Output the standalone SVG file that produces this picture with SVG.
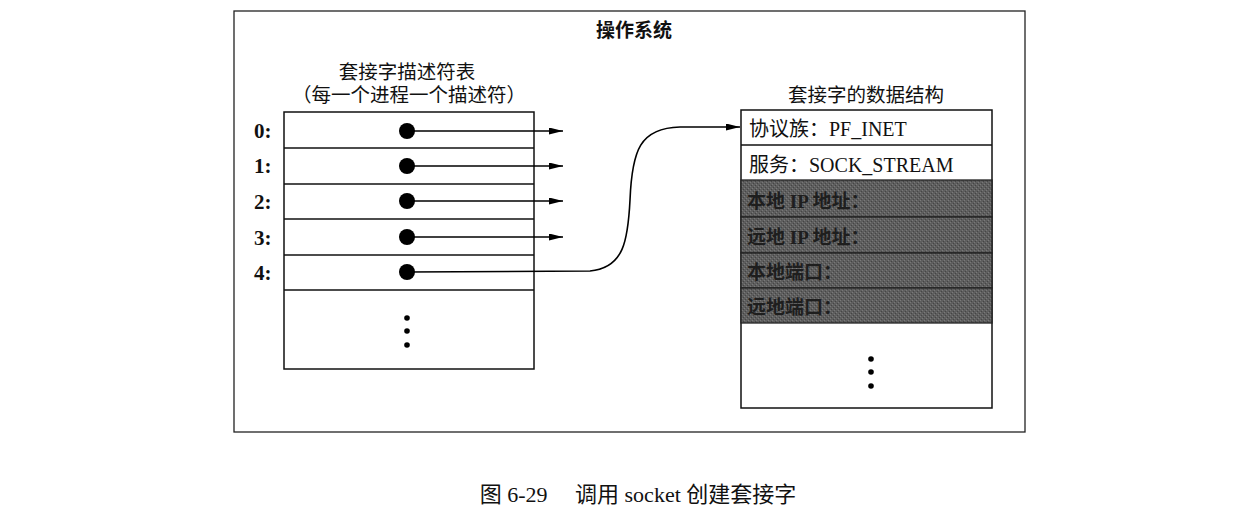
<svg xmlns="http://www.w3.org/2000/svg" width="1260" height="515" viewBox="0 0 1260 515">
<defs>
<marker id="arr" markerWidth="14" markerHeight="7" refX="14" refY="3.5" orient="auto" markerUnits="userSpaceOnUse">
<path d="M0,0 L14,3.5 L0,7 Z" fill="#000"/>
</marker>
<pattern id="grain" width="4" height="4" patternUnits="userSpaceOnUse">
<rect width="4" height="4" fill="#5e5e5e"/>
<rect x="0" y="0" width="1" height="1" fill="#7a7a7a"/>
<rect x="2" y="2" width="1" height="1" fill="#787878"/>
<rect x="3" y="1" width="1" height="1" fill="#444"/>
<rect x="1" y="3" width="1" height="1" fill="#464646"/>
</pattern>
<style>
.cjk{font-family:"Liberation Serif","Noto Sans CJK SC",serif;fill:#111;}
.box{fill:#fff;stroke:#111;stroke-width:1.5;}
.row{stroke:#111;stroke-width:1.3;}
.num{font-family:"Liberation Serif",serif;font-weight:bold;font-size:21px;fill:#111;}
.lnk{fill:none;stroke:#000;stroke-width:1.6;}
.gray{fill:url(#grain);stroke:#222;stroke-width:1.3;}
.gtxt{font-family:"Liberation Serif","Noto Sans CJK SC",serif;font-size:19px;font-weight:bold;fill:#1e1e1e;}
</style>
</defs>
<rect width="1260" height="515" fill="#fff"/>
<g id="os">
<rect x="234" y="11" width="791" height="421" fill="#fff" stroke="#222" stroke-width="1.3"/>
<text class="cjk" x="634" y="37" font-size="19" font-weight="bold" text-anchor="middle">操作系统</text>
</g>
<g id="fdtable">
<text class="cjk" x="407" y="79" font-size="19.5" text-anchor="middle">套接字描述符表</text>
<text class="cjk" x="409" y="102" font-size="19.5" text-anchor="middle">（每一个进程一个描述符）</text>
<rect class="box" x="284" y="112" width="250" height="257"/>
<line class="row" x1="284" y1="148" x2="534" y2="148"/>
<line class="row" x1="284" y1="184" x2="534" y2="184"/>
<line class="row" x1="284" y1="219" x2="534" y2="219"/>
<line class="row" x1="284" y1="255" x2="534" y2="255"/>
<line class="row" x1="284" y1="290" x2="534" y2="290"/>
<text class="num" x="254" y="138">0:</text>
<text class="num" x="254" y="173">1:</text>
<text class="num" x="254" y="209">2:</text>
<text class="num" x="254" y="245">3:</text>
<text class="num" x="254" y="280">4:</text>
<circle cx="407" cy="131" r="8" fill="#000"/>
<circle cx="407" cy="166" r="8" fill="#000"/>
<circle cx="407" cy="201" r="8" fill="#000"/>
<circle cx="407" cy="237" r="8" fill="#000"/>
<circle cx="407" cy="272" r="8" fill="#000"/>
<circle cx="407" cy="318" r="2.8" fill="#000"/>
<circle cx="407" cy="331" r="2.8" fill="#000"/>
<circle cx="407" cy="345" r="2.8" fill="#000"/>
</g>
<g id="sockstruct">
<text class="cjk" x="866" y="102" font-size="19.5" text-anchor="middle">套接字的数据结构</text>
<rect class="box" x="741" y="110" width="251" height="298"/>
<line class="row" x1="741" y1="145" x2="992" y2="145"/>
<rect class="gray" x="741" y="180" width="251" height="37"/>
<rect class="gray" x="741" y="217" width="251" height="36"/>
<rect class="gray" x="741" y="253" width="251" height="35"/>
<rect class="gray" x="741" y="288" width="251" height="35"/>
<text class="cjk" x="749" y="136" font-size="20">协议族：PF_INET</text>
<text class="cjk" x="749" y="172" font-size="20">服务：SOCK_STREAM</text>
<text class="gtxt" x="747" y="208">本地 IP 地址：</text>
<text class="gtxt" x="747" y="244">远地 IP 地址：</text>
<text class="gtxt" x="747" y="279">本地端口：</text>
<text class="gtxt" x="747" y="314">远地端口：</text>
<circle cx="871" cy="359" r="2.8" fill="#000"/>
<circle cx="871" cy="372" r="2.8" fill="#000"/>
<circle cx="871" cy="386" r="2.8" fill="#000"/>
</g>
<g id="connectors">
<line class="lnk" x1="407" y1="131" x2="563" y2="131" marker-end="url(#arr)"/>
<line class="lnk" x1="407" y1="166" x2="563" y2="166" marker-end="url(#arr)"/>
<line class="lnk" x1="407" y1="201" x2="563" y2="201" marker-end="url(#arr)"/>
<line class="lnk" x1="407" y1="237" x2="563" y2="237" marker-end="url(#arr)"/>
<path class="lnk" d="M407,272 L590,271 C624,268 628,240 630,200 C632,150 640,128 680,127 L740,127" marker-end="url(#arr)"/>
</g>
<g id="caption">
<text class="cjk" x="638" y="502" font-size="22" text-anchor="middle">图 6-29　 调用 socket 创建套接字</text>
</g>
</svg>
